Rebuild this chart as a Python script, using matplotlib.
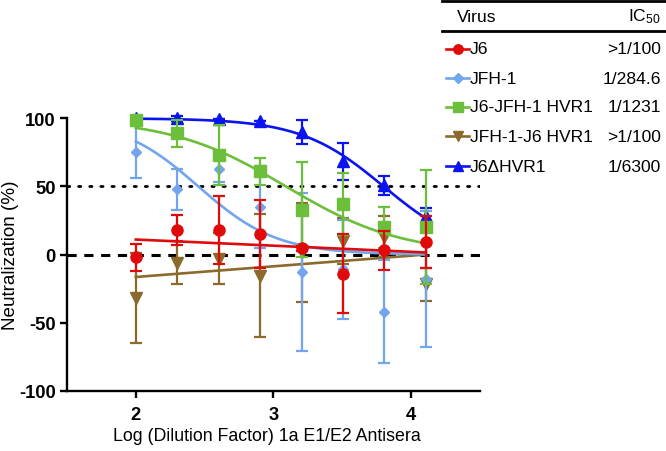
import numpy as np
import matplotlib
matplotlib.use("Agg")
import matplotlib.pyplot as plt
from matplotlib.lines import Line2D

plt.rcParams['font.family'] = ['Liberation Sans', 'DejaVu Sans']
plt.rcParams['mathtext.fontset'] = 'custom'
plt.rcParams['mathtext.rm'] = 'Liberation Sans'
plt.rcParams['mathtext.it'] = 'Liberation Sans'
plt.rcParams['axes.unicode_minus'] = False

# ---- data ----
log_dilution = [2.0, 2.301, 2.602, 2.903, 3.204, 3.505, 3.806, 4.107]

series_names = ["J6", "JFH-1", "J6-JFH-1 HVR1", "JFH-1-J6 HVR1", "J6\u0394HVR1"]
ic50_labels = [">1/100", "1/284.6", "1/1231", ">1/100", "1/6300"]

j6_mean = [-2, 18, 18, 15, 4.5, -14, 3, 9]
j6_err = [10, 11, 25, 25, 2, 29, 14.5, 19]

jfh1_mean = [75, 48, 63, 35, -13, -11, -42, -18]
jfh1_err = [19, 15, 10, 30, 58, 36, 38, 50]

j6jfh_mean = [99, 89, 73, 61, 33, 37, 20, 20]
j6jfh_err = [2, 10, 22, 10, 35, 23, 15, 42]

jfhj6_mean = [-32, -6, -3, -15.5, 1.5, 10, 13, -22]
jfhj6_err = [33, 16, 19, 45, 36, 17, 15, 12]

j6d_mean = [100, 100, 99.5, 98, 90, 68.5, 51, 28]
j6d_err = [0, 2, 0, 0, 9, 13.5, 7, 6]

# fitted curve parameters
# 4PL: (top, bottom, logIC50, hill); linear: (value at first x, value at last x)
fit_jfh1 = (100, 0, 2.454, 1.52)
fit_j6jfh = (100, 0, 3.09, 1.03)
fit_j6d = (100, 0, 3.80, 1.44)
fit_j6_line = (11, 1.5)
fit_jfhj6_line = (-16.5, 0)

colors = ["#E00A0A", "#72A5EE", "#6CBF3A", "#8C6A2C", "#0A14F0"]
markers = ["o", "D", "s", "v", "^"]
msizes = [8, 5.5, 8, 8.5, 8.5]

# ---- figure ----
fig = plt.figure(figsize=(6.66, 4.52), dpi=100)
ax = fig.add_axes([0.1006, 0.1334, 0.6201, 0.6026])

xs = np.linspace(log_dilution[0], log_dilution[-1], 200)

def fourpl(x, p):
    top, bottom, lic, h = p
    return bottom + (top - bottom) / (1 + 10 ** ((x - lic) * h))

def linfit(x, p):
    a, b = p
    return a + (b - a) * (x - log_dilution[0]) / (log_dilution[-1] - log_dilution[0])

curves = [linfit(xs, fit_j6_line), fourpl(xs, fit_jfh1), fourpl(xs, fit_j6jfh),
          linfit(xs, fit_jfhj6_line), fourpl(xs, fit_j6d)]
means = [j6_mean, jfh1_mean, j6jfh_mean, jfhj6_mean, j6d_mean]
errs = [j6_err, jfh1_err, j6jfh_err, jfhj6_err, j6d_err]

ax.axhline(0, color='black', lw=2.2, ls=(0, (3, 2.5)), zorder=1)
ax.axhline(50, color='black', lw=2.0, ls=(0, (0.8, 3.2)), dash_capstyle='round', zorder=1)

order = [4, 3, 1, 2, 0]
for k, i in enumerate(order):
    z = 3 + k
    ax.plot(xs, curves[i], color=colors[i], lw=1.9, zorder=z, clip_on=False)
    ax.errorbar(log_dilution, means[i], yerr=errs[i], fmt=markers[i], color=colors[i],
                ms=msizes[i], elinewidth=1.6, capsize=4.5, capthick=1.6,
                zorder=z + 0.5, clip_on=False)

ax.set_xlim(1.5, 4.5)
ax.set_ylim(-100, 100)
ax.set_xticks([2, 3, 4])
ax.set_yticks([-100, -50, 0, 50, 100])
ax.spines['top'].set_visible(False)
ax.spines['right'].set_visible(False)
for s in ['left', 'bottom']:
    ax.spines[s].set_linewidth(1.7)
ax.tick_params(direction='out', length=5, width=1.7, labelsize=13.2)
ax.tick_params(axis='x', pad=6)
ax.tick_params(axis='y', pad=3)
for lab in ax.get_xticklabels() + ax.get_yticklabels():
    lab.set_fontweight('bold')
ax.set_xlabel("Log (Dilution Factor) 1a E1/E2 Antisera", fontsize=12.8)
ax.xaxis.set_label_coords(0.484, -0.135)
ax.xaxis.label.set_va('top')
ax.set_ylabel("Neutralization (%)", fontsize=13.6)
ax.yaxis.set_label_coords(-0.117, 0.5)

# ---- legend table ----
W, H = 666, 452
def fx(px):
    return px / W
def fy(py):
    return 1 - py / H

fig.add_artist(Line2D([fx(442), fx(666)], [fy(1.5), fy(1.5)], color='black', lw=2.0))
fig.add_artist(Line2D([fx(442), fx(666)], [fy(32), fy(32)], color='black', lw=2.0))
fig.text(fx(477), fy(17), "Virus", fontsize=12.6, ha='center', va='center')
fig.text(fx(661), fy(17), r"IC$_{50}$", fontsize=12.6, ha='right', va='center')

row_y = [50, 79, 107.5, 137, 167]
for i in range(5):
    yv = fy(row_y[i])
    fig.add_artist(Line2D([fx(446), fx(469)], [yv, yv], color=colors[i], lw=1.9))
    fig.add_artist(Line2D([fx(457.5)], [yv], color=colors[i], marker=markers[i],
                          ms=msizes[i] * 0.85, lw=0))
    fig.text(fx(470), yv, series_names[i], fontsize=12.6, ha='left', va='center')
    fig.text(fx(661), yv, ic50_labels[i], fontsize=12.6, ha='right', va='center')

fig.savefig("out.png", dpi=100)
